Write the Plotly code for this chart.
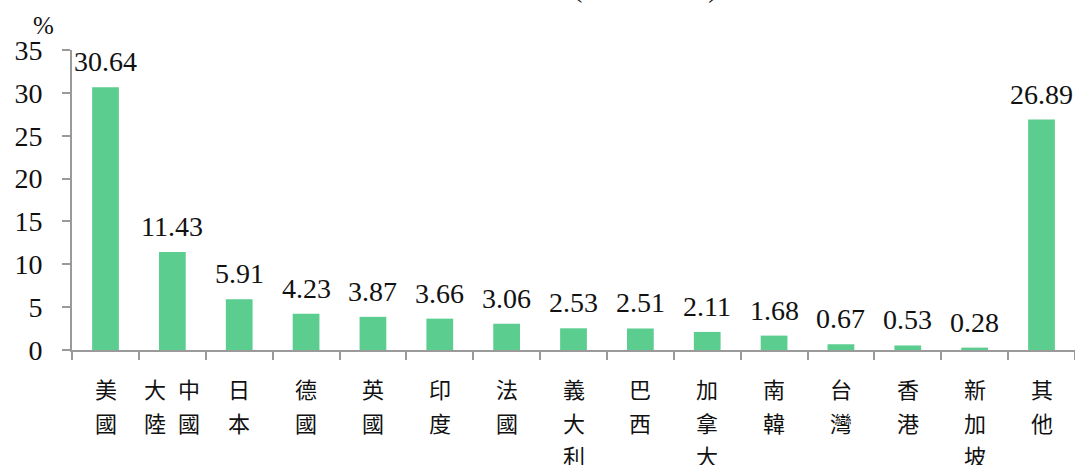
import plotly.graph_objects as go

# Share by country/region (%)
categories = ["美國", "中國大陸", "日本", "德國", "英國", "印度", "法國", "義大利",
              "巴西", "加拿大", "南韓", "台灣", "香港", "新加坡", "其他"]
values = [30.64, 11.43, 5.91, 4.23, 3.87, 3.66, 3.06, 2.53,
          2.51, 2.11, 1.68, 0.67, 0.53, 0.28, 26.89]
# Vertical category labels: list of columns (right to left), each a string read top-down
label_columns = [["美國"], ["中國", "大陸"], ["日本"], ["德國"], ["英國"], ["印度"],
                 ["法國"], ["義大利"], ["巴西"], ["加拿大"], ["南韓"], ["台灣"],
                 ["香港"], ["新加坡"], ["其他"]]
y_ticks = [0, 5, 10, 15, 20, 25, 30, 35]

BAR = "#5BCD8F"
AXIS = "#9a9a9a"
SERIF = "Liberation Serif"
NUM_FONT = dict(family=SERIF, size=28, color="#111")
CJK_FONT = dict(family="Noto Sans CJK TC", size=22, color="#111")

fig = go.Figure()
fig.add_trace(go.Bar(
    x=categories, y=values, marker=dict(color=BAR, line=dict(width=0)),
    width=0.4, hoverinfo="skip",
))

# value labels above bars
for c, v in zip(categories, values):
    fig.add_annotation(x=c, y=v, text=f"{v:.2f}", showarrow=False,
                       yanchor="bottom", yshift=8, font=NUM_FONT)

# vertical category labels under the axis, one character per row
ROW_START, ROW_STEP, COL_STEP = 38, 33.5, 34
for c, cols in zip(categories, label_columns):
    n = len(cols)
    for j, col in enumerate(cols):
        xs = (n - 1) / 2 * COL_STEP - j * COL_STEP
        for i, ch in enumerate(col):
            fig.add_annotation(x=c, y=0, yref="y", text=ch, showarrow=False,
                               xanchor="center", yanchor="middle",
                               xshift=xs, yshift=-(ROW_START + i * ROW_STEP),
                               font=CJK_FONT)

fig.add_annotation(xref="paper", yref="paper", x=-0.028, y=1.08, text="%",
                   showarrow=False, xanchor="center", yanchor="middle",
                   font=dict(family=SERIF, size=25, color="#111"))

fig.add_annotation(xref="paper", yref="paper", x=0.572, y=1.15,
                   text="(2023\u3000\u2002年)",
                   showarrow=False, xanchor="center", yanchor="bottom",
                   font=dict(family=SERIF + ", Noto Sans CJK TC", size=28, color="#111"))

fig.update_layout(
    width=1075, height=465,
    margin=dict(l=72, r=0, t=50, b=115),
    paper_bgcolor="white", plot_bgcolor="white",
    showlegend=False, bargap=0.6,
    xaxis=dict(
        tickmode="array", tickvals=categories, showticklabels=False,
        tickson="boundaries", ticks="outside", ticklen=8, tickwidth=1.5, tickcolor=AXIS,
        showline=True, linecolor=AXIS, linewidth=2, showgrid=False,
    ),
    yaxis=dict(
        range=[0, 35], tickvals=y_ticks, ticks="outside", ticklen=8, tickwidth=1.5,
        tickcolor=AXIS, showline=True, linecolor=AXIS, linewidth=2, showgrid=False,
        zeroline=False, tickfont=NUM_FONT, ticklabelstandoff=14,
    ),
)

fig.write_html("out.html")
